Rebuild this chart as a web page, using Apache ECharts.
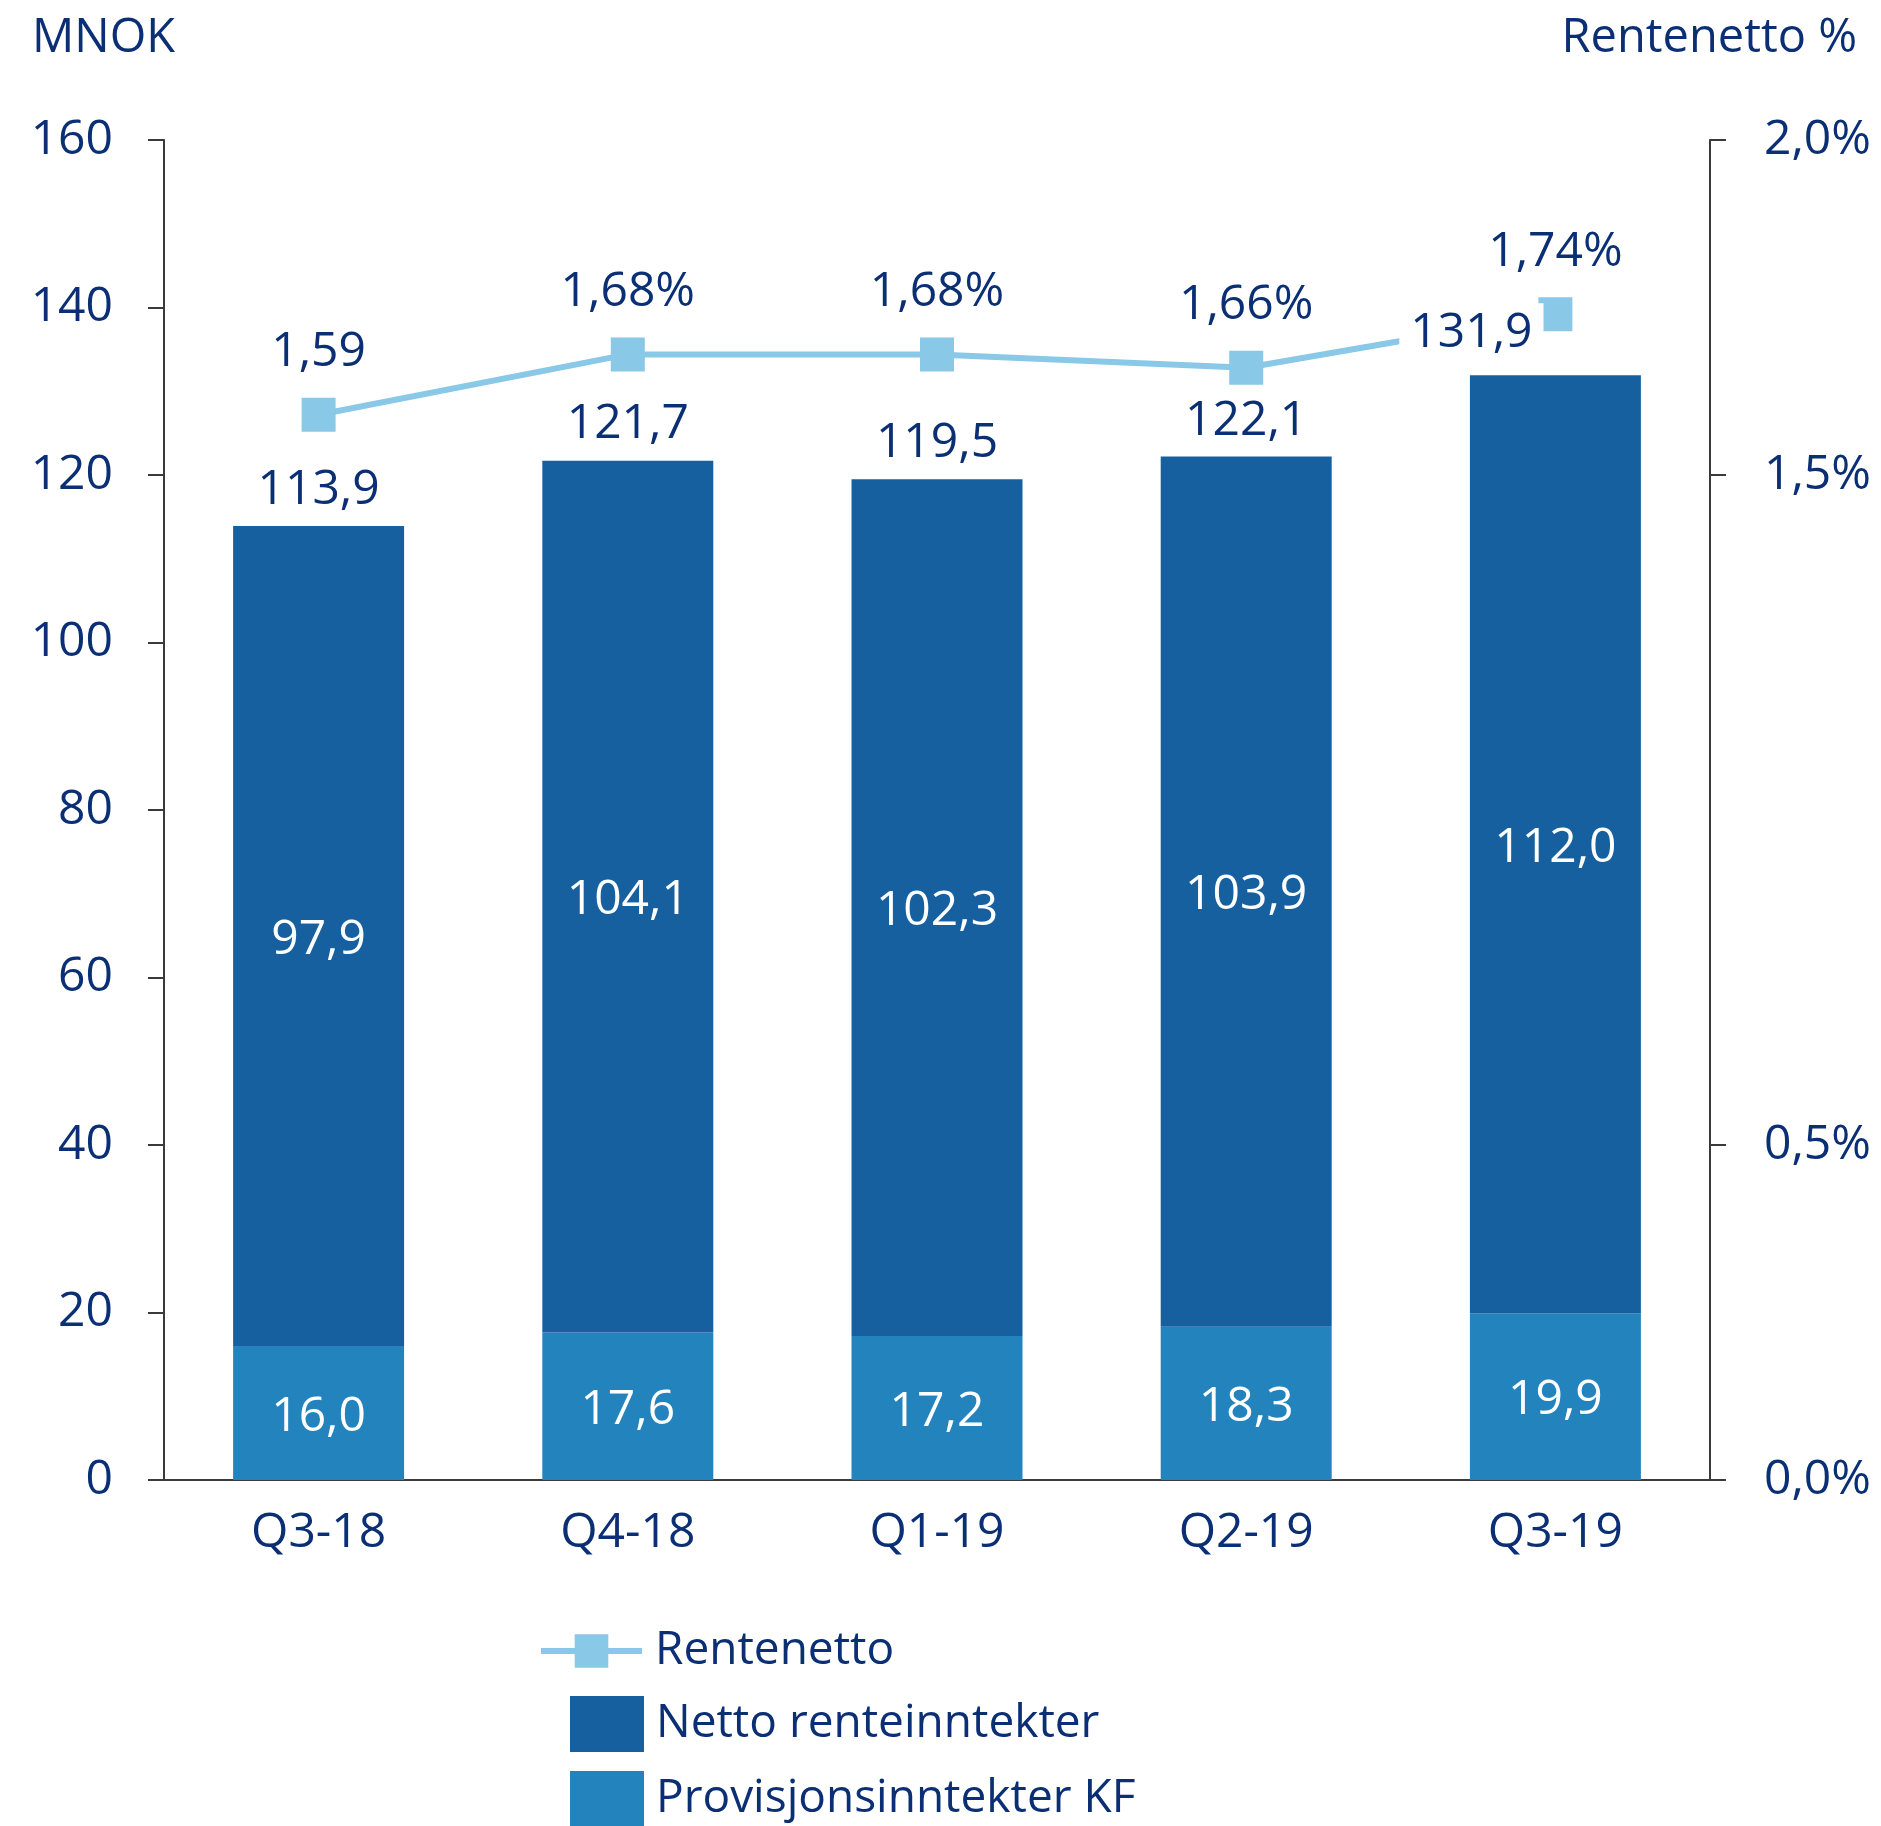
<!DOCTYPE html>
<html>
<head>
<meta charset="utf-8">
<script src="https://cdn.jsdelivr.net/npm/echarts@6/dist/echarts.min.js"></script>
<style>
html,body{margin:0;padding:0;background:#fff;}
#chart{width:1881px;height:1826px;}
</style>
</head>
<body>
<div id="chart"></div>
<script>
// ---- data ----
var categories = ['Q3-18', 'Q4-18', 'Q1-19', 'Q2-19', 'Q3-19'];
var provisjon = [16.0, 17.6, 17.2, 18.3, 19.9];
var nettoRente = [97.9, 104.1, 102.3, 103.9, 112.0];
var totals = [113.9, 121.7, 119.5, 122.1, 131.9];
var rentenetto = [1.59, 1.68, 1.68, 1.66, 1.74];
var rentenettoLabels = ['1,59', '1,68%', '1,68%', '1,66%', '1,74%'];
var leftTicks = [0, 20, 40, 60, 80, 100, 120, 140, 160];
var rightTickValues = [0, 0.5, 1.5, 2.0];

var NAVY = '#0B2F75';
var DARK = '#1660A0';
var LIGHT = '#2283BD';
var LINE = '#89C8E6';
var AXIS = '#3a3a3a';
var FS = 48;

function fmt1(v) { return v.toFixed(1).replace('.', ','); }

var chart = echarts.init(document.getElementById('chart'), null, {renderer: 'canvas'});

var totalData = totals.map(function (v, i) {
  var item = {value: v};
  if (i === totals.length - 1) {
    item.label = {
      offset: [-84, 0],
      backgroundColor: '#ffffff',
      padding: [6, 11, 6, 11]
    };
  }
  return item;
});

var option = {
  animation: false,
  backgroundColor: '#ffffff',
  textStyle: {fontFamily: 'Open Sans', color: NAVY},
  title: [
    {text: 'MNOK', left: 27, top: 10, textStyle: {fontFamily: 'Open Sans', fontSize: 47, fontWeight: 'normal', color: NAVY}},
    {text: 'Rentenetto %', right: 19, top: 10, textStyle: {fontFamily: 'Open Sans', fontSize: 47, fontWeight: 'normal', color: NAVY}}
  ],
  grid: {left: 164, right: 171, top: 140, bottom: 346, containLabel: false},
  legend: [
    {
      data: ['Rentenetto'],
      left: 538, top: 1628,
      padding: 0,
      itemWidth: 101, itemHeight: 42,
      lineStyle: {width: 6},
      textStyle: {fontFamily: 'Open Sans', fontSize: 46, color: NAVY, padding: [0, 0, 0, 8]},
      selectedMode: false
    },
    {
      data: ['Netto renteinntekter', 'Provisjonsinntekter KF'],
      orient: 'vertical',
      left: 570, top: 1696,
      height: 140,
      padding: 0,
      itemWidth: 74, itemHeight: 56, itemGap: 19,
      icon: 'rect',
      textStyle: {fontFamily: 'Open Sans', fontSize: 46, color: NAVY, padding: [0, 0, 0, 7]},
      selectedMode: false
    }
  ],
  xAxis: {
    type: 'category',
    data: categories,
    axisLine: {show: true, lineStyle: {color: AXIS, width: 2}},
    axisTick: {show: false},
    axisLabel: {fontFamily: 'Open Sans', fontSize: FS, color: NAVY, margin: 29}
  },
  yAxis: [
    {
      type: 'value',
      min: 0, max: 160, interval: 20,
      axisLine: {show: true, lineStyle: {color: AXIS, width: 2}},
      axisTick: {show: true, length: 16, lineStyle: {color: AXIS, width: 2}},
      splitLine: {show: false},
      axisLabel: {fontFamily: 'Open Sans', fontSize: FS, color: NAVY, margin: 51,
        formatter: function (v) { return leftTicks.indexOf(v) >= 0 ? String(v) : ''; }}
    },
    {
      type: 'value',
      min: 0, max: 2.0,
      position: 'right',
      axisLine: {show: true, lineStyle: {color: AXIS, width: 2}},
      axisTick: {show: true, length: 16, lineStyle: {color: AXIS, width: 2}, customValues: rightTickValues},
      splitLine: {show: false},
      axisLabel: {fontFamily: 'Open Sans', fontSize: FS, color: NAVY, margin: 54, customValues: rightTickValues,
        formatter: function (v) { return fmt1(v) + '%'; }}
    }
  ],
  series: [
    {
      name: 'Provisjonsinntekter KF',
      type: 'bar',
      stack: 'tot',
      barWidth: '55.3%',
      z: 3,
      itemStyle: {color: LIGHT},
      label: {show: true, position: 'inside', offset: [0, 4], fontFamily: 'Open Sans', fontSize: FS, color: '#ffffff',
        formatter: function (p) { return fmt1(p.value); }},
      data: provisjon
    },
    {
      name: 'Netto renteinntekter',
      type: 'bar',
      stack: 'tot',
      barWidth: '55.3%',
      z: 3,
      itemStyle: {color: DARK},
      label: {show: true, position: 'inside', offset: [0, 4], fontFamily: 'Open Sans', fontSize: FS, color: '#ffffff',
        formatter: function (p) { return fmt1(p.value); }},
      data: nettoRente
    },
    {
      name: 'Totalt',
      type: 'bar',
      barWidth: '55.3%',
      barGap: '-100%',
      z: 10,
      silent: true,
      itemStyle: {color: 'rgba(0,0,0,0)'},
      label: {show: true, position: 'top', distance: 12, fontFamily: 'Open Sans', fontSize: FS, color: NAVY,
        formatter: function (p) { return fmt1(p.value); }},
      data: totalData
    },
    {
      name: 'Rentenetto',
      type: 'line',
      yAxisIndex: 1,
      z: 2,
      symbol: 'rect',
      symbolSize: 34,
      lineStyle: {color: LINE, width: 6},
      itemStyle: {color: LINE},
      label: {show: true, position: 'top', distance: 21, fontFamily: 'Open Sans', fontSize: FS, color: NAVY,
        formatter: function (p) { return rentenettoLabels[p.dataIndex]; }},
      data: rentenetto
    }
  ]
};
chart.setOption(option);
</script>
</body>
</html>
